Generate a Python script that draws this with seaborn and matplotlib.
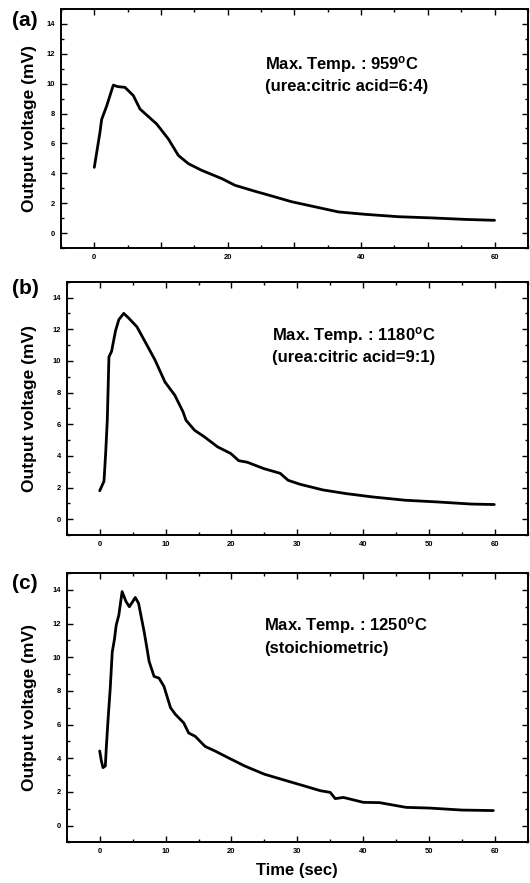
import matplotlib
matplotlib.use("Agg")
import matplotlib.pyplot as plt
import numpy as np
import pandas as pd
import seaborn as sns
from matplotlib.ticker import MultipleLocator, FixedFormatter, FixedLocator

# panel (a): urea:citric acid = 6:4
t_a = [0.0, 0.85, 1.1, 1.85, 2.85, 3.5, 4.6, 5.85, 6.85, 7.85, 9.35, 11.1, 12.6,
       14.1, 16.1, 19.1, 21.1, 24.1, 26.1, 29.6, 33.1, 36.6, 40.6, 45.6, 50.6,
       55.6, 60.0]
v_a = [4.4, 6.75, 7.6, 8.5, 9.9, 9.8, 9.75, 9.2, 8.3, 7.9, 7.3, 6.3, 5.2,
       4.65, 4.2, 3.65, 3.2, 2.8, 2.55, 2.1, 1.76, 1.42, 1.26, 1.1, 1.02,
       0.92, 0.86]

# panel (b): urea:citric acid = 9:1
t_b = [0.0, 0.65, 0.9, 1.15, 1.4, 1.8, 2.4, 2.9, 3.65, 4.4, 5.65, 6.9, 8.4,
       9.9, 11.4, 12.65, 13.1, 14.4, 15.9, 17.9, 19.9, 21.1, 22.4, 24.9, 27.4,
       28.6, 30.4, 33.9, 37.4, 41.4, 46.4, 51.4, 56.4, 59.9]
v_b = [1.8, 2.4, 4.15, 6.25, 10.25, 10.6, 11.9, 12.6, 13.0, 12.7, 12.15, 11.2,
       10.05, 8.67, 7.83, 6.78, 6.25, 5.62, 5.2, 4.57, 4.15, 3.7, 3.6, 3.2,
       2.9, 2.46, 2.21, 1.85, 1.62, 1.41, 1.2, 1.09, 0.96, 0.93]

# panel (c): stoichiometric
t_c = [0.0, 0.25, 0.5, 0.85, 1.0, 1.25, 1.6, 1.9, 2.25, 2.5, 2.9, 3.4, 4.0,
       4.5, 5.0, 5.4, 5.9, 6.25, 6.75, 7.1, 7.5, 8.25, 9.0, 9.75, 10.75, 11.5,
       12.75, 13.5, 14.5, 16.0, 17.5, 19.5, 22.0, 25.0, 27.5, 31.0, 33.5, 35.0,
       35.75, 37.0, 40.0, 42.5, 46.5, 50.0, 55.0, 59.75]
v_c = [4.43, 3.84, 3.44, 3.54, 4.62, 6.2, 8.17, 10.3, 11.1, 11.9, 12.5, 13.9,
       13.3, 13.0, 13.3, 13.55, 13.2, 12.5, 11.5, 10.7, 9.75, 8.86, 8.76, 8.27,
       7.0, 6.6, 6.1, 5.5, 5.3, 4.7, 4.43, 4.03, 3.54, 3.05, 2.76, 2.36, 2.07,
       1.97, 1.6, 1.67, 1.38, 1.36, 1.08, 1.04, 0.92, 0.89]

panel_tags = ["(a)", "(b)", "(c)"]
temp_lines = ["Max. Temp. : 959$^\\mathregular{o}$C",
              "Max. Temp. : 1180$^\\mathregular{o}$C",
              "Max. Temp. : 1250$^\\mathregular{o}$C"]
ratio_lines = ["(urea:citric acid=6:4)", "(urea:citric acid=9:1)", "(stoichiometric)"]

sns.set_theme(style="ticks")
plt.rcParams["font.family"] = ["Liberation Sans", "DejaVu Sans"]
plt.rcParams["font.weight"] = "bold"
plt.rcParams["mathtext.default"] = "regular"
for key in ["text.color", "axes.labelcolor", "xtick.color", "ytick.color",
            "axes.edgecolor"]:
    plt.rcParams[key] = "black"

fig = plt.figure(figsize=(5.3, 8.83), dpi=100)
boxes = [
    [0.115, 0.719, 0.881, 0.271],
    [0.126, 0.394, 0.870, 0.287],
    [0.126, 0.046, 0.870, 0.305],
]
text_pos = [(25.6, 11.3, 9.8), (26.1, 11.6, 10.2), (25.0, 11.9, 10.5)]
label_x = [-0.051, -0.065, -0.065]
tag_y = [0.977, 0.673, 0.339]

series = [(t_a, v_a), (t_b, v_b), (t_c, v_c)]
for i, (t, v) in enumerate(series):
    ax = fig.add_axes(boxes[i])
    df = pd.DataFrame({"time": t, "voltage": v})
    sns.lineplot(data=df, x="time", y="voltage", ax=ax, color="black",
                 linewidth=2.0, estimator=None, sort=False)
    ax.set_xlim(-5, 65)
    ax.set_ylim(-1, 15)

    ax.xaxis.set_major_locator(FixedLocator([0, 10, 20, 30, 40, 50, 60]))
    if i == 0:
        ax.xaxis.set_major_formatter(FixedFormatter(["0", "", "20", "", "40", "", "60"]))
    else:
        ax.xaxis.set_major_formatter(FixedFormatter(["0", "10", "20", "30", "40", "50", "60"]))
    ax.xaxis.set_minor_locator(MultipleLocator(5))
    ax.yaxis.set_major_locator(MultipleLocator(2))
    ax.yaxis.set_minor_locator(MultipleLocator(1))
    ax.tick_params(which="both", direction="in", top=True, right=True,
                   labelsize=5.5, width=1.0, pad=4, colors="black")
    ax.tick_params(which="major", length=4)
    ax.tick_params(which="minor", length=2.5)
    for lab in ax.get_xticklabels() + ax.get_yticklabels():
        lab.set_fontweight("bold")
    for sp in ax.spines.values():
        sp.set_linewidth(1.4)
        sp.set_color("black")

    ax.set_ylabel("Output voltage (mV)", fontsize=12.5, fontweight="bold", color="black")
    ax.yaxis.set_label_coords(label_x[i], 0.5)
    if i == 2:
        ax.set_xlabel("Time (sec)", fontsize=12, fontweight="bold", labelpad=6, color="black")
    else:
        ax.set_xlabel("")

    tx, ty1, ty2 = text_pos[i]
    ax.text(tx, ty1, temp_lines[i], fontsize=12, fontweight="bold", va="center",
            ha="left", color="black")
    ax.text(tx, ty2, ratio_lines[i], fontsize=12, fontweight="bold", va="center",
            ha="left", color="black")

    fig.text(0.023, tag_y[i], panel_tags[i], fontsize=15, fontweight="bold",
             va="center", color="black")

fig.savefig("out.png", dpi=100)
